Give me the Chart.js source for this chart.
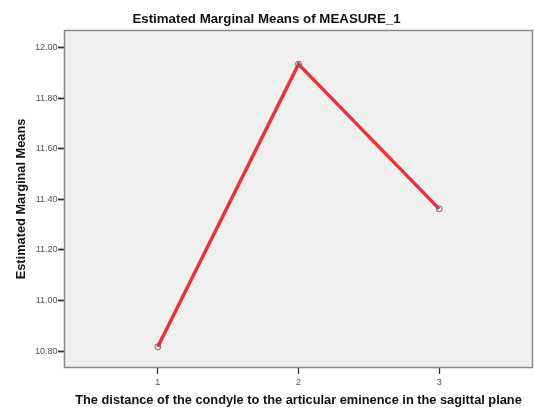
<!DOCTYPE html>
<html>
<head>
<meta charset="utf-8">
<script src="https://cdn.jsdelivr.net/npm/chart.js@4.4.0/dist/chart.umd.min.js"></script>
<style>
  html, body { margin: 0; padding: 0; background: #fff; }
  #wrap { width: 534px; height: 408px; }
</style>
</head>
<body>
<div id="wrap"><canvas id="chart"></canvas></div>
<script>
const categories = [1, 2, 3];
const means = [10.817, 11.934, 11.362];
const yTicks = [10.8, 11.0, 11.2, 11.4, 11.6, 11.8, 12.0];
const xTicks = [1, 2, 3];

// grey plot box like SPSS
const plotBox = {
  id: "plotBox",
  beforeDraw(chart) {
    const { ctx, chartArea: a } = chart;
    ctx.save();
    ctx.fillStyle = "#f0f0f0";
    ctx.fillRect(a.left, a.top, a.right - a.left, a.bottom - a.top);
    ctx.restore();
  },
  afterDatasetsDraw(chart) {
    const { ctx, chartArea: a } = chart;
    ctx.save();
    ctx.strokeStyle = "#8a8a8a";
    ctx.lineWidth = 1.5;
    ctx.strokeRect(a.left + 0.5, a.top + 0.5, a.right - a.left - 1, a.bottom - a.top - 1);
    ctx.restore();
  },
};

function initialize() {
  new Chart(document.getElementById("chart").getContext("2d"), {
    type: "line",
    plugins: [plotBox],
    data: {
      datasets: [
        {
          data: categories.map((c, i) => ({ x: c, y: means[i] })),
          borderColor: "#e8343a",
          borderWidth: 3.5,
          pointRadius: 3,
          pointBorderColor: "#666",
          pointBorderWidth: 1,
          pointBackgroundColor: "rgba(0,0,0,0)",
          tension: 0,
        },
      ],
    },
    options: {
      responsive: true,
      maintainAspectRatio: false,
      animation: false,
      layout: { autoPadding: false, padding: { right: 1 } },
      plugins: {
        legend: { display: false },
        tooltip: { enabled: false },
        title: {
          display: true,
          text: "Estimated Marginal Means of MEASURE_1",
          color: "#111",
          font: { family: "Liberation Sans, Arial, sans-serif", size: 13.3, weight: "bold" },
          padding: { top: 11.5, bottom: 2.5 },
        },
      },
      scales: {
        x: {
          type: "linear",
          min: 1 / 3,
          max: 11 / 3,
          afterBuildTicks: (s) => { s.ticks = xTicks.map((v) => ({ value: v })); },
          afterFit: (s) => { s.height = 40; },
          border: { display: false },
          grid: {
            drawOnChartArea: false,
            tickLength: 6,
            tickColor: "#333",
            tickWidth: 1.3,
          },
          ticks: {
            color: "#555",
            font: { family: "Liberation Sans, Arial, sans-serif", size: 9 },
            padding: 3,
            maxRotation: 0,
          },
          title: {
            display: true,
            text: "The distance of the condyle to the articular eminence in the sagittal plane",
            color: "#111",
            font: { family: "Liberation Sans, Arial, sans-serif", size: 12.8, weight: "bold" },
            padding: { top: 0, bottom: 0 },
          },
        },
        y: {
          type: "linear",
          min: 10.733,
          max: 12.069,
          afterBuildTicks: (s) => { s.ticks = yTicks.map((v) => ({ value: v })); },
          afterFit: (s) => { s.width = 64; },
          border: { display: false },
          grid: {
            drawOnChartArea: false,
            tickLength: 6,
            tickColor: "#333",
            tickWidth: 1.8,
          },
          ticks: {
            color: "#555",
            font: { family: "Liberation Sans, Arial, sans-serif", size: 9 },
            padding: 0.5,
            callback: (v) => Number(v).toFixed(2),
          },
          title: {
            display: true,
            text: "Estimated Marginal Means",
            color: "#111",
            font: { family: "Liberation Sans, Arial, sans-serif", size: 12.8, weight: "bold" },
            padding: { top: 14, bottom: 0 },
          },
        },
      },
    },
  });
}

initialize();
</script>
</body>
</html>
